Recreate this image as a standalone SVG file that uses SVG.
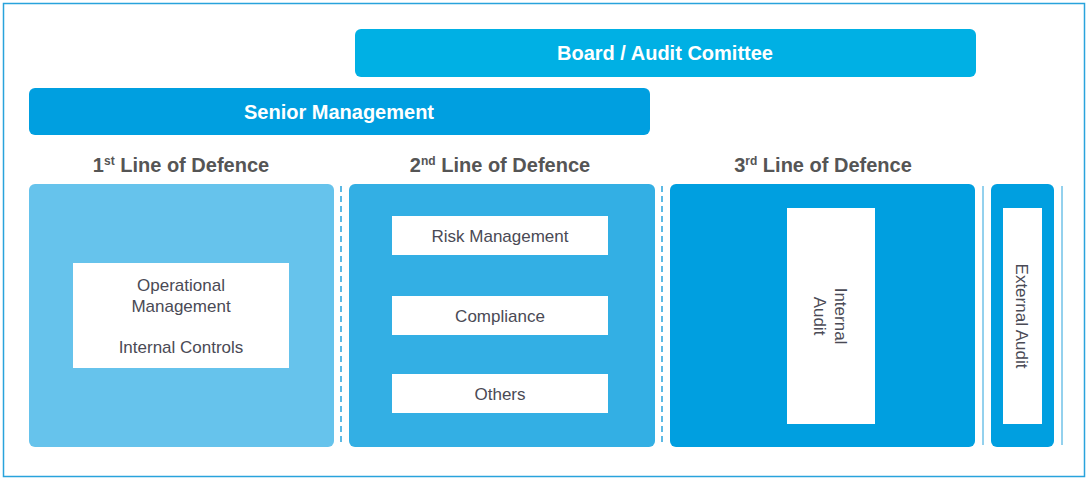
<svg xmlns="http://www.w3.org/2000/svg" width="1089" height="480" viewBox="0 0 1089 480">
<style>
.frame{fill:#fff;stroke:#29a3dc;stroke-width:1.5}
.hdr{font-family:"Liberation Sans",Arial,sans-serif;font-weight:bold;font-size:20px;fill:#fff;text-anchor:middle}
.ttl{font-family:"Liberation Sans",Arial,sans-serif;font-weight:bold;font-size:20px;fill:#555;text-anchor:middle}
.sup{font-size:12px}
.lbl{font-family:"Liberation Sans",Arial,sans-serif;font-size:17px;fill:#4a4a55;text-anchor:middle}
.w{fill:#fff}
.dash{stroke:#29a3dc;stroke-width:1.5;stroke-dasharray:6,4;fill:none}
.solid{stroke:#29a3dc;stroke-width:1;fill:none}
</style>
<rect class="frame" x="3.5" y="3.5" width="1081" height="473"/>
<g id="board">
<rect x="355" y="29" width="621" height="48" rx="6" fill="#00b0e4"/>
<text class="hdr" x="665" y="60">Board / Audit Comittee</text>
</g>
<g id="senior">
<rect x="29" y="88" width="621" height="47" rx="6" fill="#009fe0"/>
<text class="hdr" x="339" y="119">Senior Management</text>
</g>
<g id="titles">
<text class="ttl" x="181" y="172">1<tspan class="sup" dy="-7">st</tspan><tspan dy="7"> Line of Defence</tspan></text>
<text class="ttl" x="500" y="172">2<tspan class="sup" dy="-7">nd</tspan><tspan dy="7"> Line of Defence</tspan></text>
<text class="ttl" x="823" y="172">3<tspan class="sup" dy="-7">rd</tspan><tspan dy="7"> Line of Defence</tspan></text>
</g>
<g id="connectors">
<line class="dash" x1="341" y1="186" x2="341" y2="446"/>
<line class="dash" x1="662" y1="186" x2="662" y2="446"/>
<line class="solid" x1="983" y1="186" x2="983" y2="445"/>
<line class="solid" x1="1062" y1="186" x2="1062" y2="445"/>
</g>
<g id="line1">
<rect x="29" y="184" width="305" height="263" rx="6" fill="#66c3ec"/>
<rect class="w" x="73" y="263" width="216" height="105"/>
<text class="lbl" x="181" y="291">Operational</text>
<text class="lbl" x="181" y="312">Management</text>
<text class="lbl" x="181" y="353">Internal Controls</text>
</g>
<g id="line2">
<rect x="349" y="184" width="306" height="263" rx="6" fill="#33afe4"/>
<g id="risk"><rect class="w" x="392" y="216" width="216" height="39"/><text class="lbl" x="500" y="242">Risk Management</text></g>
<g id="compliance"><rect class="w" x="392" y="296" width="216" height="39"/><text class="lbl" x="500" y="322">Compliance</text></g>
<g id="others"><rect class="w" x="392" y="374" width="216" height="39"/><text class="lbl" x="500" y="400">Others</text></g>
</g>
<g id="line3">
<rect x="670" y="184" width="305" height="263" rx="6" fill="#009fe0"/>
<rect class="w" x="787" y="208" width="88" height="216"/>
<text class="lbl" transform="translate(831,316) rotate(90)"><tspan x="0" y="-4">Internal</tspan><tspan x="0" y="17">Audit</tspan></text>
</g>
<g id="external">
<rect x="991" y="184" width="63" height="263" rx="6" fill="#009fe0"/>
<rect class="w" x="1003" y="208" width="39" height="216"/>
<text class="lbl" transform="translate(1022,316) rotate(90)" y="6">External Audit</text>
</g>
</svg>
